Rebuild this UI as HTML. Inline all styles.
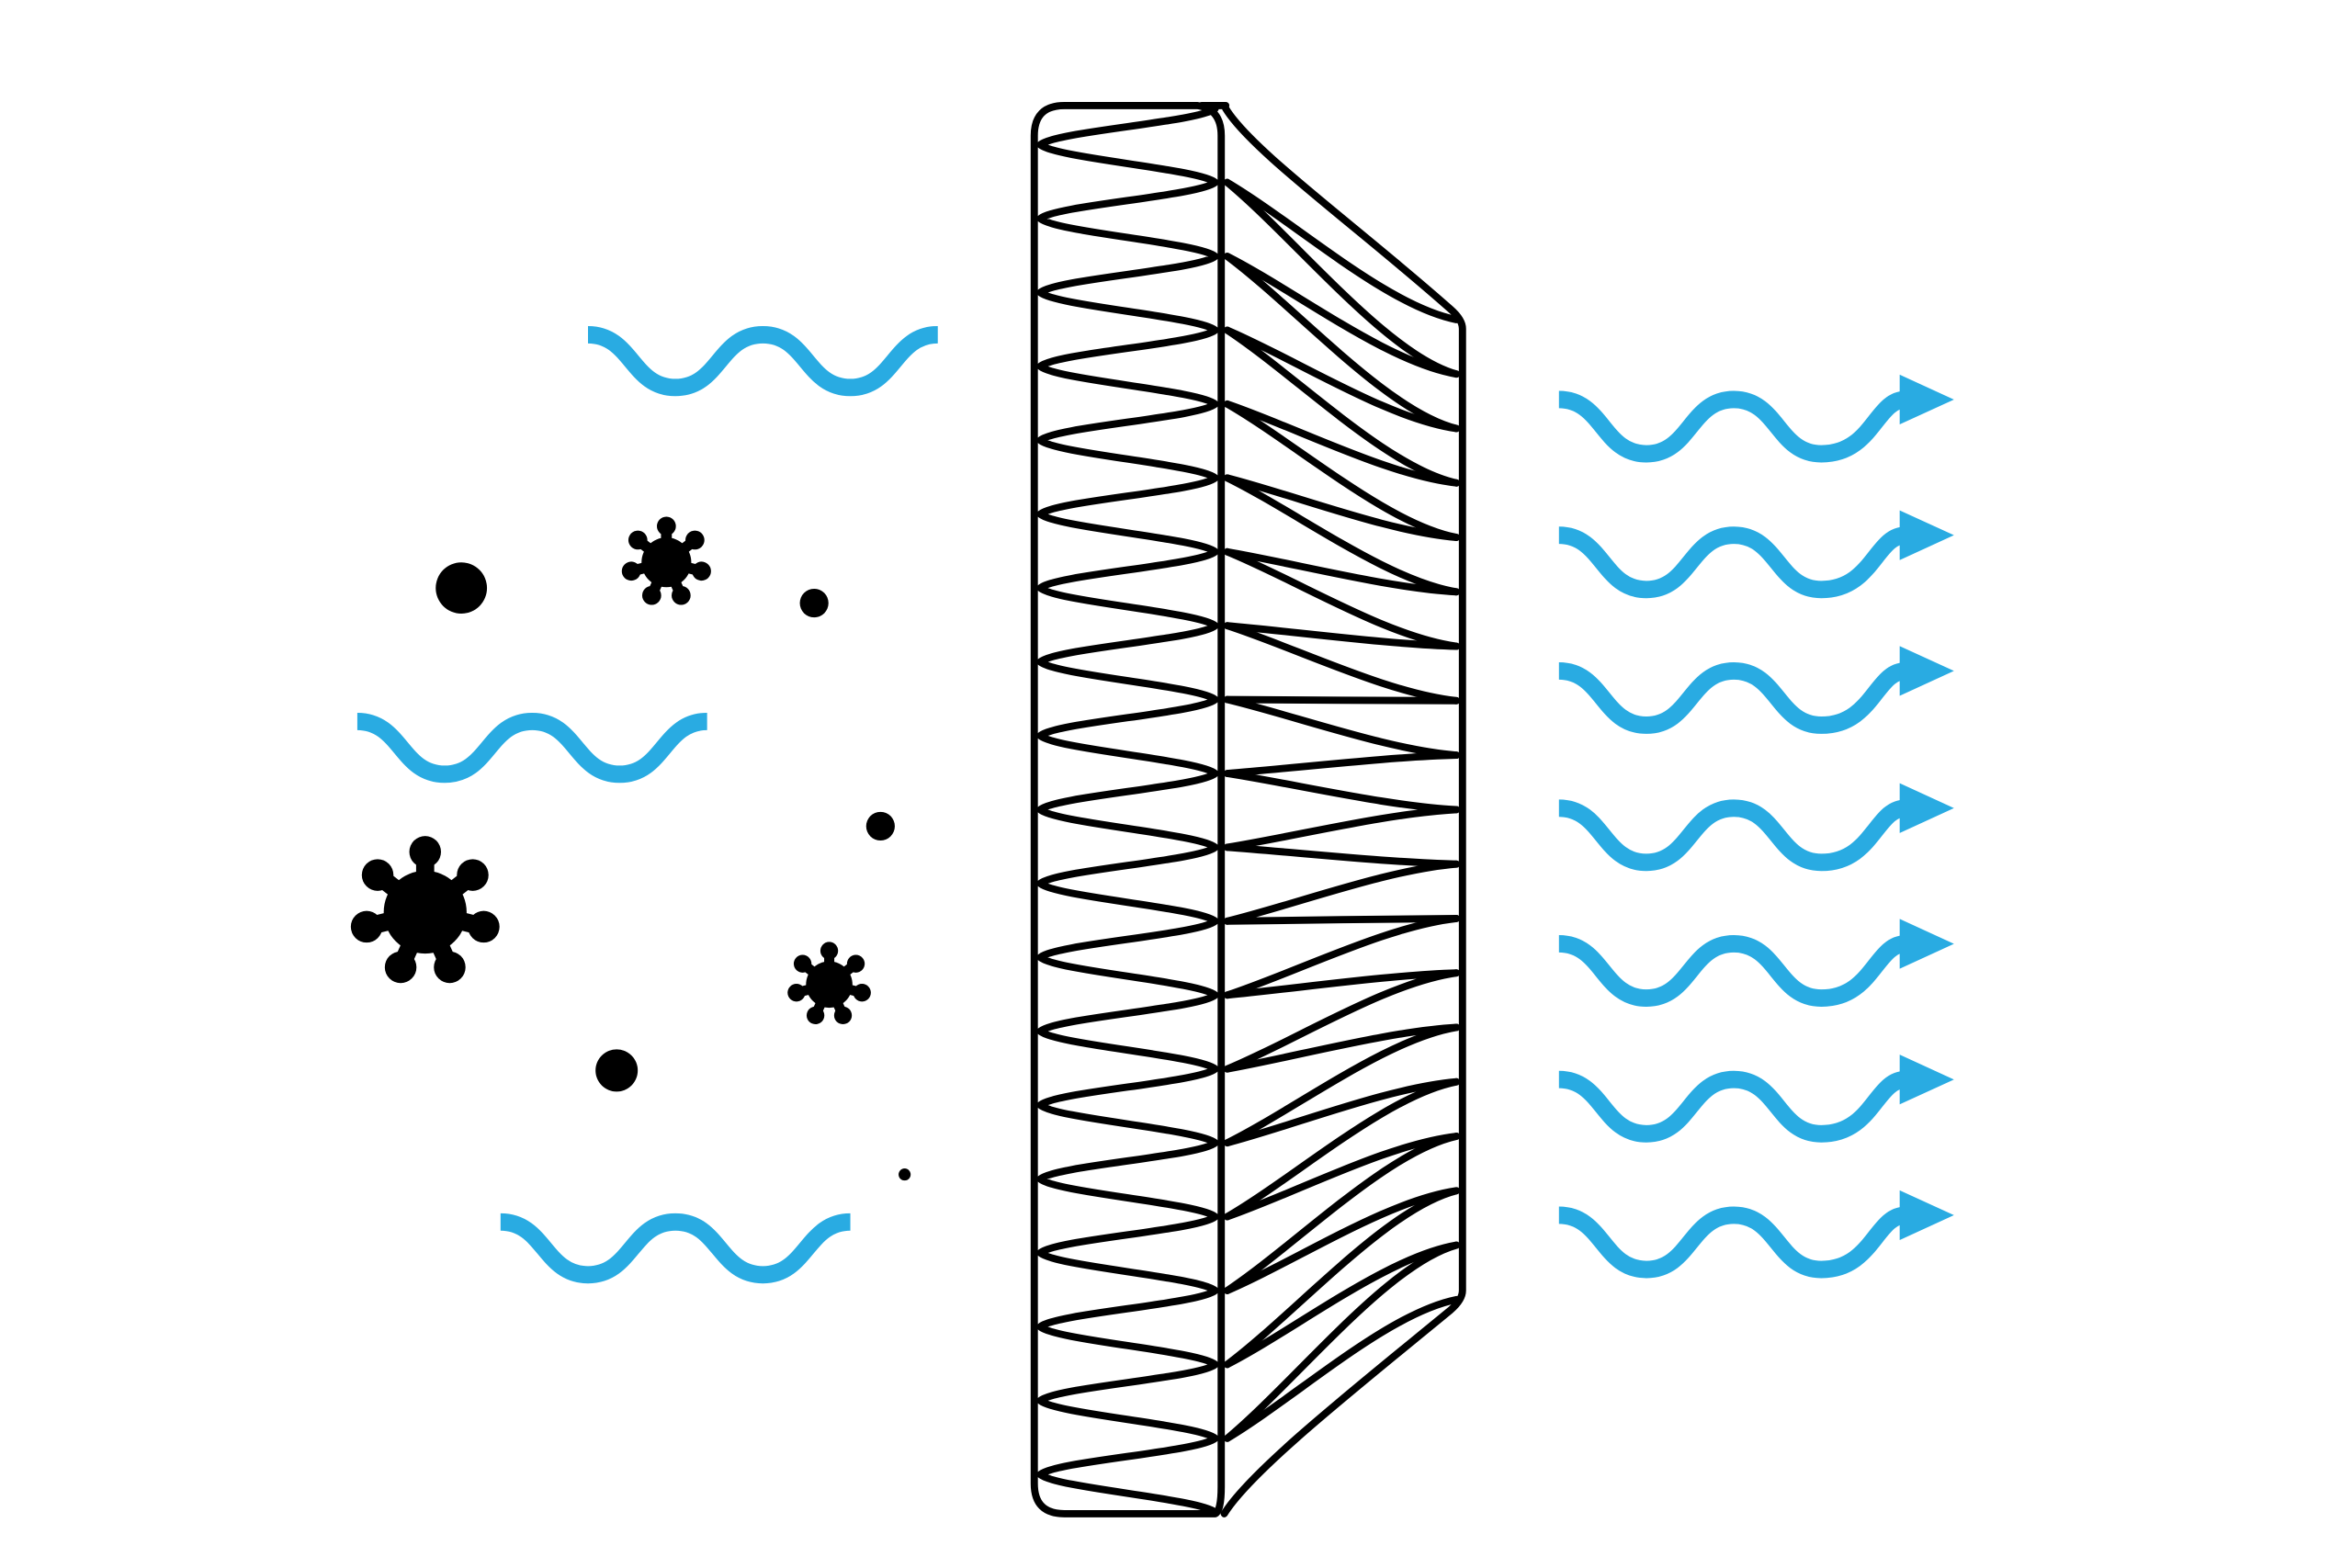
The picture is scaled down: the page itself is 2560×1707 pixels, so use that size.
<!DOCTYPE html>
<html><head><meta charset="utf-8"><style>
html,body{margin:0;padding:0;background:#fff;}
svg{display:block;}
</style></head><body>
<svg id="s" width="2560" height="1707" viewBox="0 0 1560 1040" preserveAspectRatio="none" xmlns="http://www.w3.org/2000/svg">
<rect width="1560" height="1040" fill="#fff"/>
<g id="blue" fill="none" stroke="#29ABE2" stroke-width="11.5"></g>
<g id="bluefill" fill="#29ABE2"></g>
<g id="dots" fill="#000">
<circle cx="306" cy="390" r="17"/>
<circle cx="540" cy="400" r="9.5"/>
<circle cx="584" cy="548" r="9.5"/>
<circle cx="409" cy="710" r="14"/>
<circle cx="600" cy="779" r="4"/>
</g>
<g id="virus" fill="#000" stroke="#000" stroke-linecap="round"></g>
<g id="filt" fill="none" stroke="#000" stroke-width="4.8" stroke-linejoin="round" stroke-linecap="round">
<path d="M806,1004 L706,1004 Q686,1004 686,984 L686,90 Q686,70 706,70 L794,70 Q810,72 810,90 L810,986 Q810,1002 806,1004"/>
<path d="M797,70 L813,70"/>
<path d="M813,72 C830,100 900,150 962,205 Q970,212 970,218 L970,856 Q970,862 962,869 C900,920 830,975 812,1004"/>
</g>
</svg>
<script>
var NS="http://www.w3.org/2000/svg";
function el(p,t,a){var e=document.createElementNS(NS,t);for(var k in a)e.setAttribute(k,a[k]);document.getElementById(p).appendChild(e);return e;}
function wave(x0,yc,n,amp){var h=29;var d="M"+x0+","+(yc-amp);var x=x0,up=true;for(var i=0;i<n;i++){var y1=up?yc-amp:yc+amp,y2=up?yc+amp:yc-amp;d+=" C"+(x+h)+","+y1+" "+(x+h)+","+y2+" "+(x+2*h)+","+y2;x+=2*h;up=!up;}return d;}
el("blue","path",{d:wave(390,239.5,4,17.5)});
el("blue","path",{d:wave(237,496,4,17.5)});
el("blue","path",{d:wave(332,828,4,17.5)});
var ys=[265,355,445,536,626,716,806];
ys.forEach(function(y){
 var yc=y+18;
 el("blue","path",{d:wave(1034,yc,3,18)+" C1242,"+(yc+18)+" 1244,"+(yc-18)+" 1264,"+(yc-18)});
 el("bluefill","polygon",{points:"1260,"+(yc-18-16.5)+" 1296,"+(yc-18)+" 1260,"+(yc-18+16.5)});
});
function virus(cx,cy,R){
 el("virus","circle",{cx:cx,cy:cy,r:R*0.55,stroke:"none"});
 var angs=[0,52,104,156,-52,-104,-156];
 angs.forEach(function(a){var r=a*Math.PI/180;var x=cx+Math.sin(r)*R*0.8,y=cy-Math.cos(r)*R*0.8;
  el("virus","line",{x1:cx,y1:cy,x2:x,y2:y,"stroke-width":R*0.24});
  el("virus","circle",{cx:x,cy:y,r:R*0.21,stroke:"none"});});
}
virus(442,373,30);
virus(282,605,50);
virus(550,653,28);
var R=[],L=[];for(var i=0;i<20;i++)R.push(72+i*49);
for(i=0;i<19;i++)L.push(R[i]+24);
var d="M806,"+R[0];
for(i=0;i<19;i++){
 var a=R[i],b=L[i],c=R[i+1];
 d+=" C796,"+(a+9)+" 700,"+(b-9)+" 690,"+b;
 d+=" C700,"+(b+9)+" 796,"+(c-9)+" 806,"+c;
}
el("filt","path",{d:d});
var E=[];for(i=0;i<19;i++)E.push(212+i*36.11);
for(i=0;i<20;i++){
 [i-1,i].forEach(function(j){if(j<0||j>18)return;
  if((i==0&&j==0)||(i==19&&j==18))return;
  var y1=R[i],y2=E[j],dy=y2-y1;
  el("filt","path",{d:"M814,"+y1+" C860,"+(y1+dy*0.3)+" 920,"+(y2-dy*0.1)+" 966,"+y2});
 });
}
</script>
</body></html>
